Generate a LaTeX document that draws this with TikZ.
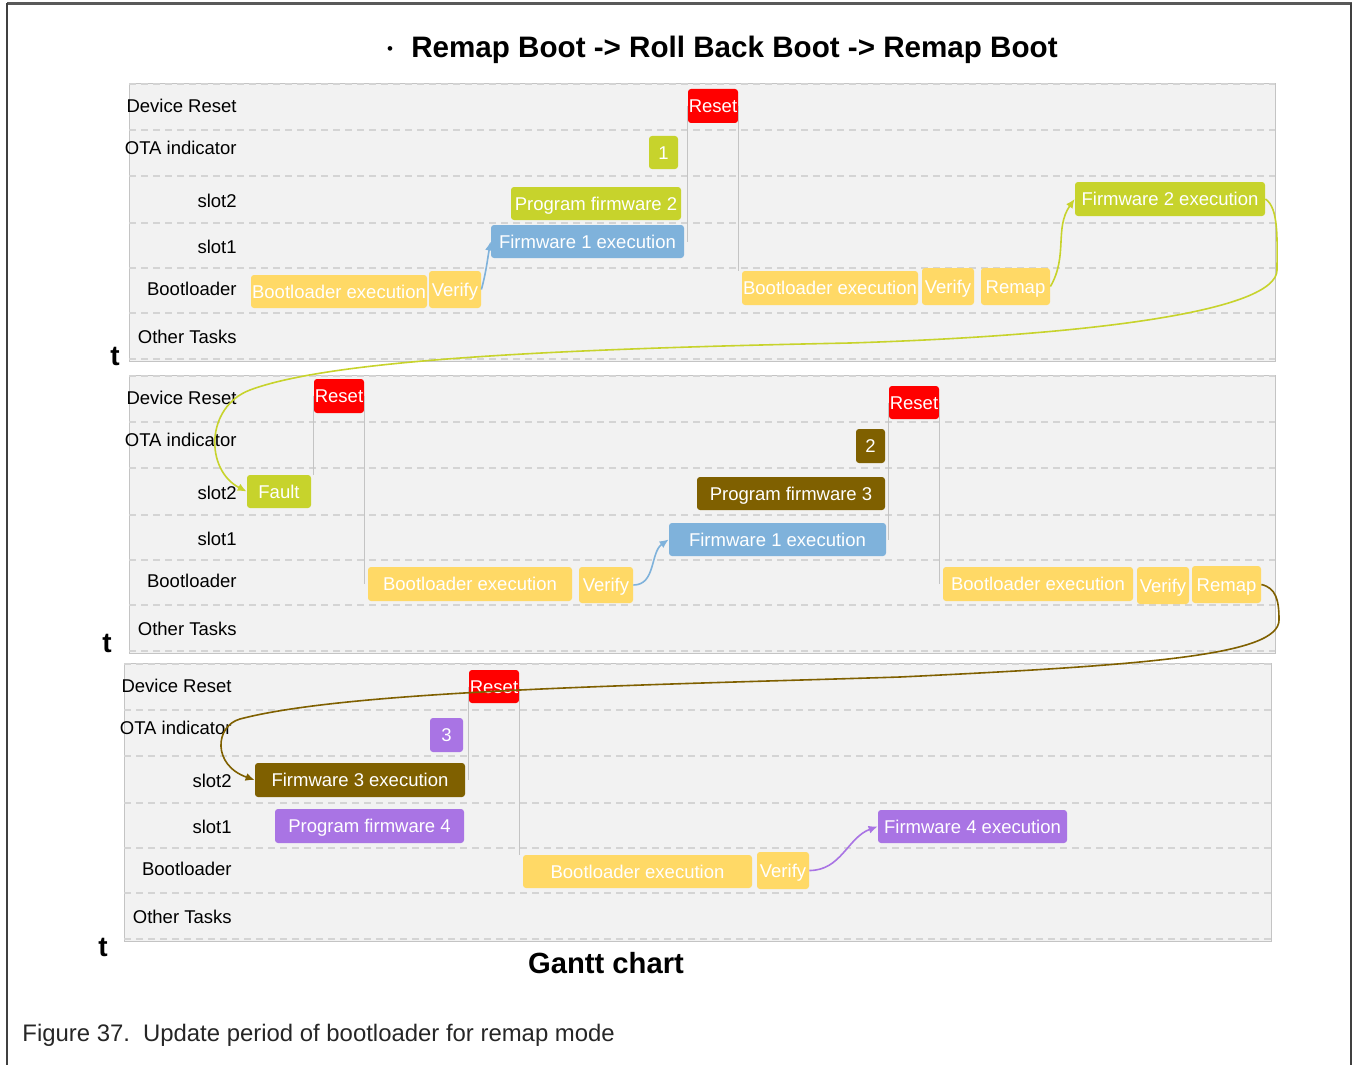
\documentclass[tikz,border=0pt]{standalone}
\usepackage{fontspec}
\setmainfont{Liberation Sans}
\usetikzlibrary{arrows.meta}
\definecolor{barYellow}{HTML}{FFD966}
\definecolor{barBlue}{HTML}{7FB2DB}
\definecolor{barGreen}{HTML}{C7D32C}
\definecolor{barBrown}{HTML}{7F6000}
\definecolor{barPurple}{HTML}{A974E4}
\definecolor{barRed}{HTML}{FF0000}
\definecolor{panelFill}{HTML}{F2F2F2}
\definecolor{panelLine}{HTML}{C4C4C4}
\definecolor{rowLine}{HTML}{D4D4D4}
\definecolor{capGrey}{HTML}{262626}
\begin{document}
\begin{tikzpicture}[x=0.5pt,y=-0.5pt,
  bar/.style={rectangle,rounded corners=1.5pt,fill=#1,text=white,inner sep=0pt,
    minimum height=16.5pt,text height=6.6pt,text depth=0pt,font=\fontsize{9.25}{11}\selectfont},
  lab/.style={anchor=east,inner sep=0pt,text height=6.6pt,text depth=0pt,font=\fontsize{9.25}{11}\selectfont},
  tmark/.style={inner sep=0pt,font=\bfseries\fontsize{14}{16}\selectfont},
  tick/.style={draw=panelLine,line width=0.75pt},
  flow/.style={draw=#1,line width=0.8pt,-{Latex[length=4.5pt,width=4pt]}}]
\useasboundingbox (0,0) rectangle (1354,1065);
% frame
\draw[line width=1.5pt,draw=black!65] (7,4) -- (1352,4);
\draw[line width=0.9pt,draw=black!75] (7,3) -- (7,1065) (1351,3) -- (1351,1065);
% title
\node[font=\fontsize{8.5}{9}\selectfont] (bul) at (390,51) {\textbullet};
\node[font=\bfseries\fontsize{14.8}{17}\selectfont] (title) at (734.5,50) {Remap Boot -> Roll Back Boot -> Remap Boot};
% the three charts
\foreach \p/\xl/\xr/\yt/\tx/\ty in {1/129/1275/84/115/356, 2/129/1275/376/107/643, 3/124/1271/664/103/947}{
  \draw[draw=panelLine,fill=panelFill] (\xl,\yt-1) rectangle (\xr,\yt+277);
  \foreach \d in {0,46,92,139,184,229,275}
    \draw[rowLine,line width=0.75pt,dash pattern=on 3.5pt off 2.5pt] (\xl,\yt+\d) -- (\xr,\yt+\d);
  \foreach \i/\d/\txt in {1/22/Device Reset, 2/64/OTA indicator, 3/117/slot2, 4/163/slot1, 5/205/Bootloader, 6/253/Other Tasks}
    \node[lab] (row\p-\i) at (\xl+108,\yt+\d) {\txt};
  \node[tmark] (t\p) at (\tx,\ty) {t};
}
% chart 1
\node[bar=barYellow,minimum width=88pt] (boot1) at (339,291.5) {Bootloader execution};
\node[bar=barYellow,minimum width=26pt,minimum height=18.5pt] (ver1) at (455,289.5) {Verify};
\node[bar=barBlue,minimum width=96.5pt] (fwa1) at (587.5,241.5) {Firmware 1 execution};
\node[bar=barGreen,minimum width=85pt] (prog2) at (596,203.5) {Program firmware 2};
\node[bar=barGreen,minimum width=14.5pt] (ota1) at (663.5,152.5) {1};
\node[bar=barRed,minimum width=25pt,minimum height=17pt] (rst1) at (713,106) {Reset};
\node[bar=barYellow,minimum width=88pt,minimum height=17pt] (boot2) at (830,288) {Bootloader execution};
\node[bar=barYellow,minimum width=26pt,minimum height=18.5pt] (ver2) at (948,286.5) {Verify};
\node[bar=barYellow,minimum width=34.5pt,minimum height=18.5pt] (remap1) at (1015.5,286.5) {Remap};
\node[bar=barGreen,minimum width=95pt,minimum height=17pt] (fw2) at (1170,199) {Firmware 2 execution};
\draw[tick] (rst1.west) -- (rst1.west |- fwa1.east);
\draw[tick] (rst1.east) -- (rst1.east |- boot2.north);
% chart 2
\node[bar=barGreen,minimum width=32pt] (fault) at (279,491.5) {Fault};
\node[bar=barRed,minimum width=25pt,minimum height=17pt] (rst2) at (339,396) {Reset};
\node[bar=barYellow,minimum width=102pt,minimum height=17pt] (boot3) at (470,584) {Bootloader execution};
\node[bar=barYellow,minimum width=27pt,minimum height=18pt] (ver3) at (606,585) {Verify};
\node[bar=barBlue,minimum width=108.5pt] (fwa2) at (777.5,539.5) {Firmware 1 execution};
\node[bar=barBrown,minimum width=94pt] (prog3) at (791,493.5) {Program firmware 3};
\node[bar=barBrown,minimum width=14.5pt,minimum height=17pt] (ota2) at (870.5,446) {2};
\node[bar=barRed,minimum width=25pt] (rst3) at (914,402.5) {Reset};
\node[bar=barYellow,minimum width=95pt,minimum height=17pt] (boot4) at (1038,584) {Bootloader execution};
\node[bar=barYellow,minimum width=26pt,minimum height=18.5pt] (ver4) at (1163,585.5) {Verify};
\node[bar=barYellow,minimum width=34.5pt,minimum height=18.5pt] (remap2) at (1226.5,584.5) {Remap};
\draw[tick] (rst2.west) -- (rst2.west |- fault.north);
\draw[tick] (rst2.east) -- (rst2.east |- boot3.west);
\draw[tick] (rst3.west) -- (rst3.west |- fwa2.east);
\draw[tick] (rst3.east) -- (rst3.east |- boot4.west);
% chart 3
\node[bar=barRed,minimum width=25pt] (rst4) at (494,686.5) {Reset};
\node[bar=barPurple,minimum width=16.5pt,minimum height=17pt] (ota3) at (446.5,735) {3};
\node[bar=barBrown,minimum width=105pt,minimum height=17pt] (fw3) at (360,780) {Firmware 3 execution};
\node[bar=barPurple,minimum width=94.5pt,minimum height=17pt] (prog4) at (369.5,826) {Program firmware 4};
\node[bar=barYellow,minimum width=114.5pt] (boot5) at (637.5,871.5) {Bootloader execution};
\node[bar=barYellow,minimum width=26pt,minimum height=18.5pt] (ver5) at (783,870.5) {Verify};
\node[bar=barPurple,minimum width=94.5pt] (fw4) at (972.5,826.5) {Firmware 4 execution};
\draw[tick] (rst4.west) -- (rst4.west |- fw3.east);
\draw[tick] (rst4.east) -- (rst4.east |- boot5.north);
% jumps
\draw[flow=barBlue] (ver1.east) to[out=75,in=-100] (fwa1.west);
\draw[flow=barBlue] (ver3.east) to[out=0,in=215] (fwa2.west);
\draw[flow=barPurple] (ver5.east) to[out=0,in=200] (fw4.west);
\draw[flow=barGreen] (remap1.east) to[out=60,in=235] (fw2.west);
\draw[flow=barGreen] (fw2.east) .. controls (1279,208) and (1277,240) .. (1277,270)
  .. controls (1277,310) and (1100,335) .. (850,343)
  .. controls (550,349) and (330,360) .. (250,390)
  .. controls (205,407) and (205,470) .. (fault.west);
\draw[flow=barBrown] (remap2.east) .. controls (1276,588) and (1279,600) .. (1279,620)
  .. controls (1279,655) and (1150,665) .. (900,677)
  .. controls (650,685) and (350,690) .. (240,719)
  .. controls (215,726) and (212,765) .. (fw3.west);
% bottom texts
\node[font=\bfseries\fontsize{14.6}{17}\selectfont] (gantt) at (606,963) {Gantt chart};
\node[anchor=west,inner sep=0pt,text=capGrey,font=\fontsize{11.95}{14}\selectfont] (cap) at (22,1035) {Figure 37.\hspace{0.55em}Update period of bootloader for remap mode};
\end{tikzpicture}
\end{document}
